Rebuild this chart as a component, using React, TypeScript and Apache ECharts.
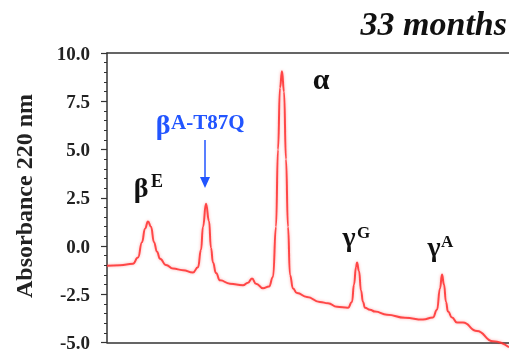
import React, { useEffect, useRef } from "react";
import * as echarts from "echarts";

// Retention time (arbitrary units)
const times = [
  0, 1.3, 2.6, 3.1, 3.5, 3.8, 4.1, 4.4, 4.7, 5.0, 5.3, 5.9, 6.6, 7.6, 8.6, 9.1, 9.4, 9.6, 9.9,
  10.2, 10.4, 10.6, 10.9, 11.3, 12.3, 13.6, 14.1, 14.5, 14.9, 15.6, 16.2, 16.6, 16.9, 17.1, 17.3,
  17.5, 17.7, 17.9, 18.1, 18.3, 18.6, 19.0, 20.0, 21.3, 22.1, 23.0, 24.1, 24.5, 24.7, 24.9, 25.0,
  25.2, 25.4, 25.6, 25.8, 26.3, 26.8, 28.0, 29.8, 31.6, 32.6, 33.0, 33.3, 33.5, 33.7, 33.9, 34.1,
  34.5, 35.0, 35.6, 37.0, 38.6, 40.2,
];
// Absorbance 220 nm
const absorbance = [
  -1.02, -1.0, -0.92, -0.6, 0.2, 0.9, 1.27, 1.0, 0.2, -0.3, -0.66, -0.98, -1.17, -1.25, -1.37, -1.1,
  -0.2, 1.0, 2.19, 1.3, -0.1, -0.86, -1.4, -1.78, -1.95, -2.03, -1.9, -1.68, -1.95, -2.19, -2.1,
  -1.6, 1.0, 5.0, 8.2, 9.05, 8.0, 4.5, 1.0, -1.5, -2.2, -2.44, -2.64, -2.9, -2.97, -3.15, -3.2,
  -2.9, -2.0, -1.1, -0.86, -1.3, -2.3, -2.9, -3.2, -3.3, -3.4, -3.56, -3.72, -3.81, -3.7, -3.3,
  -2.2, -1.48, -2.0, -2.9, -3.4, -3.7, -3.97, -3.97, -4.4, -4.93, -5.25,
];
const yTicks = [-5, -2.5, 0, 2.5, 5, 7.5, 10];
const titleText = "33 months";
const yTitle = "Absorbance 220 nm";

const F_TITLE = "Times New Roman";
const F_TICK = "Liberation Serif";
const F_GREEK = "Liberation Serif";
const F_YNAME = "Liberation Serif";

export default function App() {
  const ref = useRef<HTMLDivElement>(null);
  useEffect(() => {
    if (!ref.current) return;
    const chart = echarts.init(ref.current, undefined, { renderer: "svg" });
    const data = times.map((t, i) => [t, absorbance[i]]);
    const txt = (
      text: string,
      x: number,
      y: number,
      size: number,
      align: string,
      color = "#111"
    ) => ({
      type: "text",
      x,
      y,
      style: {
        text,
        fill: color,
        fontFamily: F_GREEK,
        fontWeight: "bold",
        fontSize: size,
        align,
        verticalAlign: "middle",
      },
    });
    const xAxisBase = {
      type: "value",
      min: 0,
      max: 40.2,
      axisLine: { show: true, onZero: false, lineStyle: { color: "#333", width: 1.5 } },
      axisTick: { show: false },
      axisLabel: { show: false },
      splitLine: { show: false },
    };
    chart.setOption({
      animation: false,
      grid: { left: 107, right: 0, top: 53, bottom: 4 },
      xAxis: [
        { ...xAxisBase, position: "bottom" },
        { ...xAxisBase, position: "top" },
      ],
      yAxis: {
        type: "value",
        min: yTicks[0],
        max: yTicks[yTicks.length - 1],
        interval: 2.5,
        axisLine: { show: true, onZero: false, lineStyle: { color: "#333", width: 1.5 } },
        axisTick: { show: true, inside: false, length: 6, lineStyle: { color: "#333", width: 1.2 } },
        minorTick: { show: true, splitNumber: 5, length: 3, lineStyle: { color: "#333", width: 1 } },
        splitLine: { show: false },
        axisLabel: {
          margin: 17,
          formatter: (v: number) => v.toFixed(1),
          fontFamily: F_TICK,
          fontWeight: "bold",
          fontSize: 19,
          color: "#222",
        },
      },
      series: [
        {
          type: "line",
          data,
          showSymbol: false,
          smooth: 0.5,
          smoothMonotone: "x",
          clip: false,
          lineStyle: {
            color: "rgba(255,50,50,0.88)",
            width: 2,
            shadowColor: "rgba(255,0,0,0.35)",
            shadowBlur: 3,
          },
        },
      ],
      graphic: [
        {
          type: "text",
          x: 507,
          y: 23,
          style: {
            text: titleText,
            fill: "#111",
            fontFamily: F_TITLE,
            fontWeight: "bold",
            fontStyle: "italic",
            fontSize: 34,
            align: "right",
            verticalAlign: "middle",
          },
        },
        {
          type: "text",
          x: 24,
          y: 196,
          rotation: Math.PI / 2,
          style: {
            text: yTitle,
            fill: "#222",
            fontFamily: F_YNAME,
            fontWeight: "bold",
            fontSize: 24,
            align: "center",
            verticalAlign: "middle",
          },
        },
        txt("α", 321, 78, 30, "center"),
        txt("β", 141, 187, 28, "center"),
        txt("E", 151, 181, 18, "left"),
        txt("β", 163, 124, 28, "center", "#2255ff"),
        txt("A-T87Q", 171, 122, 21, "left", "#2255ff"),
        {
          type: "line",
          shape: { x1: 205, y1: 140, x2: 205, y2: 180 },
          style: { stroke: "#2255ff", lineWidth: 1.5 },
        },
        {
          type: "polygon",
          shape: { points: [[200, 177], [210, 177], [205, 188]] },
          style: { fill: "#2255ff" },
        },
        txt("γ", 349, 236, 28, "center"),
        txt("G", 357, 232, 17, "left"),
        txt("γ", 434, 246, 28, "center"),
        txt("A", 441, 241, 17, "left"),
      ],
    });
    return () => chart.dispose();
  }, []);
  return (
    <div
      ref={ref}
      style={{ position: "fixed", left: 0, top: 0, width: 509, height: 352 }}
    />
  );
}
